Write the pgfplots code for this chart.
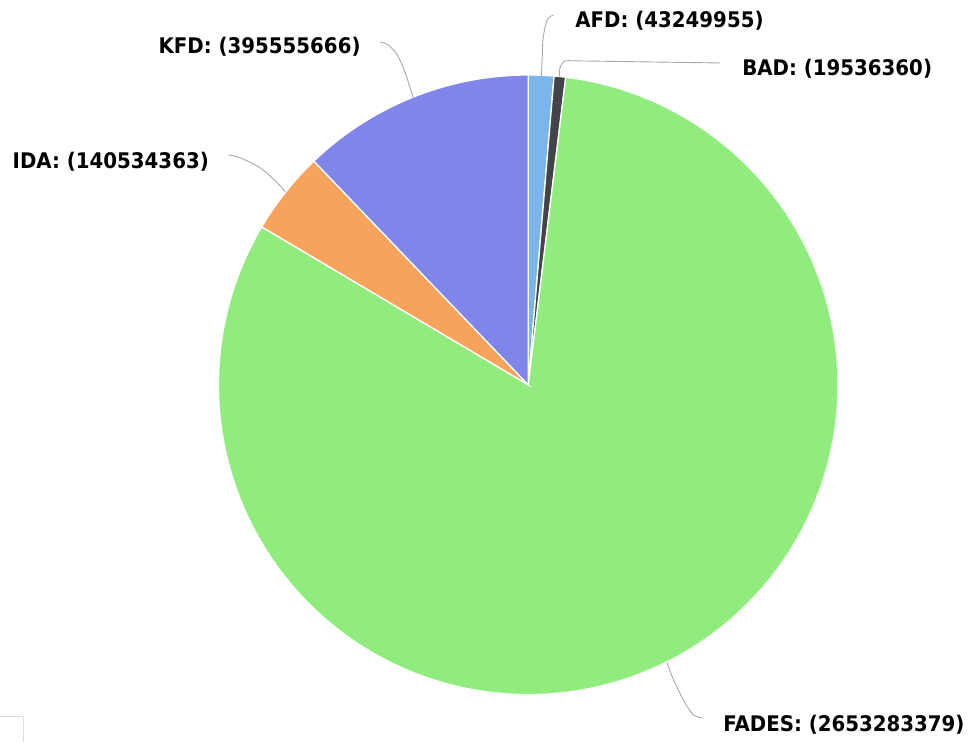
\documentclass[border=0pt]{standalone}
\usepackage{pgfplots}
\pgfplotsset{compat=1.18}
\usepackage{fontspec}
\setmainfont{DejaVu Sans}
\newfontfamily\lab{DejaVu Sans}[FakeStretch=0.92]
\definecolor{cAFD}{HTML}{7CB5EC}
\definecolor{cBAD}{HTML}{434348}
\definecolor{cFADES}{HTML}{90ED7D}
\definecolor{cIDA}{HTML}{F7A35C}
\definecolor{cKFD}{HTML}{8085E9}
\definecolor{conn}{HTML}{A8A8A8}
% data
\def\vAFD{43249955}
\def\vBAD{19536360}
\def\vFADES{2653283379}
\def\vIDA{140534363}
\def\vKFD{395555666}
\edef\tot{\fpeval{\vAFD+\vBAD+\vFADES+\vIDA+\vKFD}}
\edef\aA{\fpeval{90-360*\vAFD/\tot}}
\edef\aB{\fpeval{\aA-360*\vBAD/\tot}}
\edef\aC{\fpeval{\aB-360*\vFADES/\tot}}
\edef\aD{\fpeval{\aC-360*\vIDA/\tot}}
\edef\aE{\fpeval{\aD-360*\vKFD/\tot}}
\tikzset{lbl/.style={anchor=west, inner sep=0pt, text=black, font=\lab\bfseries\fontsize{21.5}{24}\selectfont}}
\begin{document}
\begin{tikzpicture}
\begin{axis}[
  width=970pt, height=742pt, scale only axis,
  xmin=0, xmax=970, ymin=0, ymax=742, y dir=reverse,
  hide axis, clip=false,
]
\path (rel axis cs:0,0) rectangle (rel axis cs:1,1);
% slices
\addplot[fill=cAFD, draw=white, line width=1.3pt, domain=\aA:90, samples=8]
  ({528+310*cos(x)},{385-310*sin(x)}) -- (axis cs:528,385) -- cycle;
\addplot[fill=cBAD, draw=white, line width=1.3pt, domain=\aB:\aA, samples=6]
  ({528+310*cos(x)},{385-310*sin(x)}) -- (axis cs:528,385) -- cycle;
\addplot[fill=cFADES, draw=white, line width=1.3pt, domain=\aC:\aB, samples=150]
  ({528+310*cos(x)},{385-310*sin(x)}) -- (axis cs:528,385) -- cycle;
\addplot[fill=cIDA, draw=white, line width=1.3pt, domain=\aD:\aC, samples=15]
  ({528+310*cos(x)},{385-310*sin(x)}) -- (axis cs:528,385) -- cycle;
\addplot[fill=cKFD, draw=white, line width=1.3pt, domain=\aE:\aD, samples=30]
  ({528+310*cos(x)},{385-310*sin(x)}) -- (axis cs:528,385) -- cycle;
% connectors
\addplot[conn, line width=0.9pt, smooth, tension=0.5] coordinates {(380,42) (388,45) (397,55) (405,73) (413,98)};
\addplot[conn, line width=0.9pt, smooth, tension=0.5] coordinates {(553,15) (547,20) (543,37) (542,57) (541,77)};
\addplot[conn, line width=0.9pt, smooth, tension=0.4] coordinates {(559,77) (560,67) (565,61) (583,61) (720,63)};
\addplot[conn, line width=0.9pt, smooth, tension=0.5] coordinates {(228,155) (240,158) (260,168) (277,183) (285,192)};
\addplot[conn, line width=0.9pt, smooth, tension=0.5] coordinates {(667,663) (672,677) (683,700) (693,715) (702,718)};
% labels
\node[lbl] at (axis cs:158,47) {KFD: (395555666)};
\node[lbl] at (axis cs:575,21) {AFD: (43249955)};
\node[lbl] at (axis cs:742,69) {BAD: (19536360)};
\node[lbl] at (axis cs:12,162) {IDA: (140534363)};
\node[lbl] at (axis cs:723,725) {FADES: (2653283379)};
% cut-off box at bottom left
\draw[gray!25, line width=1pt] (axis cs:0,717) -- (axis cs:23,717) -- (axis cs:23,742);
\end{axis}
\end{tikzpicture}
\end{document}
